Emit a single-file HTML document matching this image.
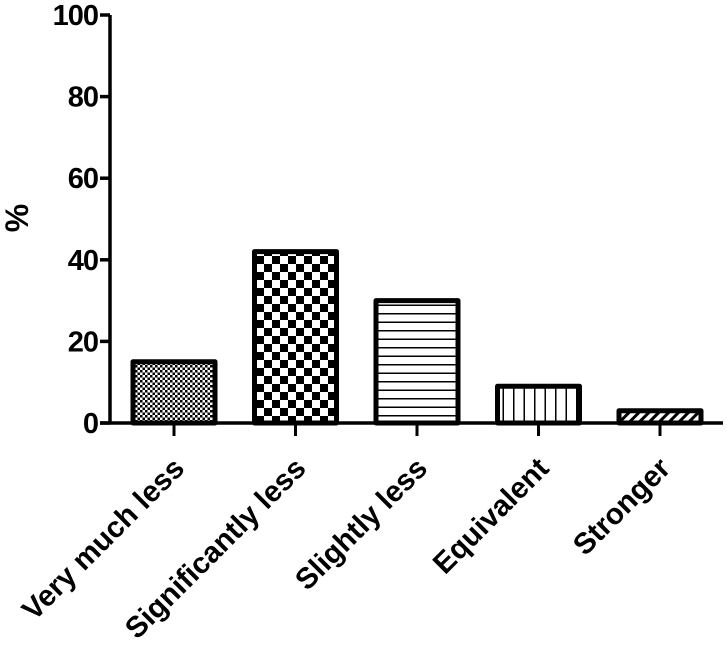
<!DOCTYPE html>
<html><head><meta charset="utf-8"><style>
body{margin:0;background:#fff;}
text{font-family:"Liberation Sans",Arial,sans-serif;font-weight:bold;fill:#000;}
</style></head><body>
<svg id="chart" width="727" height="645" viewBox="0 0 727 645" xmlns="http://www.w3.org/2000/svg">
<defs>
<pattern id="p0" width="5" height="5" patternUnits="userSpaceOnUse"><rect width="5" height="5" fill="#fff"/><rect width="2.5" height="2.5" fill="#000"/><rect x="2.5" y="2.5" width="2.5" height="2.5" fill="#000"/></pattern>
<pattern id="p1" width="16" height="16" patternUnits="userSpaceOnUse"><rect width="16" height="16" fill="#fff"/><rect width="8" height="8" fill="#000"/><rect x="8" y="8" width="8" height="8" fill="#000"/></pattern>
<pattern id="p2" width="10" height="8.5" patternUnits="userSpaceOnUse"><rect width="10" height="8.5" fill="#fff"/><rect y="7" width="10" height="1.5" fill="#000"/></pattern>
<pattern id="p3" width="10.5" height="10" patternUnits="userSpaceOnUse"><rect width="10.5" height="10" fill="#fff"/><rect x="9" width="1.5" height="10" fill="#000"/></pattern>
<pattern id="p4" width="7" height="7" patternUnits="userSpaceOnUse" patternTransform="rotate(45)"><rect width="7" height="7" fill="#fff"/><rect width="3" height="7" fill="#000"/></pattern>
</defs>
<g id="bars"></g>
<g id="axes"></g>
</svg>
<script>
const categories=["Very much less","Significantly less","Slightly less","Equivalent","Stronger"];
const values=[15,42,30,9,3];
const yTicks=[0,20,40,60,80,100];
const NS="http://www.w3.org/2000/svg";
const x0=110,y0=423,yTop=15,step=121.5,firstC=174,barW=82;
function yScale(v){return y0-(v/100)*(y0-yTop);}
function xScale(i){return firstC+i*step;}
function mk(t,a,p){const e=document.createElementNS(NS,t);for(const k in a)e.setAttribute(k,a[k]);p.appendChild(e);return e;}
const bars=document.getElementById('bars'),axes=document.getElementById('axes');
values.forEach((v,i)=>{
  const cx=xScale(i),yt=yScale(v);
  const r=mk('rect',{x:cx-barW/2,y:yt,width:barW,height:y0-yt,fill:'url(#p'+i+')',stroke:'#000','stroke-width':5,'stroke-linejoin':'round'},bars);
  
  
});
let l=mk('line',{x1:x0,y1:y0,x2:x0,y2:yTop,stroke:'#000','stroke-width':3.5},axes);


l=mk('line',{x1:100,y1:y0,x2:723,y2:y0,stroke:'#000','stroke-width':3.5},axes);


yTicks.forEach(t=>{
  const y=yScale(t);
  mk('line',{x1:100,y1:y,x2:x0,y2:y,stroke:'#000','stroke-width':3.5},axes);
  const tx=mk('text',{x:98,y:y+10,'text-anchor':'end','font-size':29,'letter-spacing':-1},axes);
  tx.textContent=t;
  
  
});
categories.forEach((c,i)=>{
  const cx=xScale(i);
  mk('line',{x1:cx,y1:y0,x2:cx,y2:436,stroke:'#000','stroke-width':3},axes);
  const ax=cx+12,ay=470;
  const tx=mk('text',{x:ax,y:ay,'text-anchor':'end','font-size':29.5,transform:'rotate(-45 '+ax+' '+ay+')'},axes);
  tx.textContent=c;
  
  
});
const yt=mk('text',{x:28,y:218,'text-anchor':'middle','font-size':32,transform:'rotate(-90 28 218)'},axes);
yt.textContent='%';


</script>
</body></html>
